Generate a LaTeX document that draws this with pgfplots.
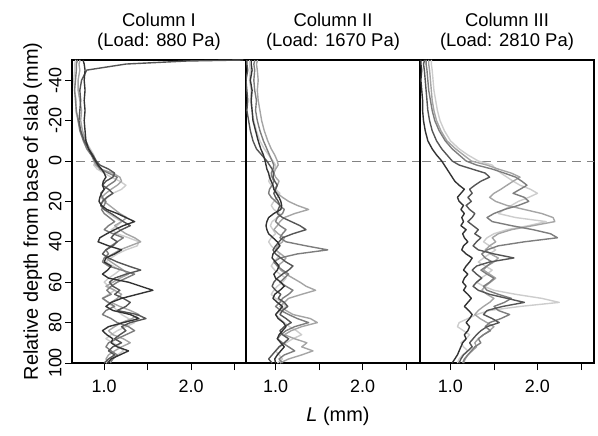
\documentclass[border=0pt]{standalone}
\usepackage{pgfplots}
\pgfplotsset{compat=1.18}
\usepackage{pgfplotstable}
\usepackage{fontspec}
\setmainfont{Liberation Sans}

\definecolor{c1}{RGB}{50,50,50}
\definecolor{c2}{RGB}{85,85,85}
\definecolor{c3}{RGB}{125,125,125}
\definecolor{c4}{RGB}{165,165,165}
\definecolor{c5}{RGB}{205,205,205}
\definecolor{dashgray}{RGB}{130,130,130}

% depth (mm) and L (mm) of five traces per column
\pgfplotstableread{
d t1 t2 t3 t4 t5
-50 0.76 2.60 0.69 0.72 0.67
-49.5 0.76 1.95 0.69 0.72 0.67
-48 0.77 1.25 0.68 0.71 0.66
-45 0.78 0.80 0.68 0.72 0.66
-40 0.77 0.74 0.67 0.70 0.65
-35 0.78 0.72 0.66 0.70 0.66
-30 0.77 0.73 0.67 0.72 0.68
-25 0.78 0.72 0.68 0.74 0.67
-20 0.77 0.71 0.70 0.73 0.70
-15 0.78 0.73 0.72 0.75 0.73
-10 0.79 0.77 0.76 0.79 0.78
-6 0.82 0.82 0.80 0.83 0.84
-3 0.86 0.87 0.85 0.86 0.88
0 0.90 0.91 0.89 0.88 0.90
2 0.93 0.95 0.92 0.90 0.88
4 0.97 1.05 0.95 0.96 0.92
6 1.00 1.12 1.05 1.10 1.00
8 1.02 1.10 1.15 1.18 1.08
10 0.99 1.02 1.12 1.20 1.18
12 0.98 0.98 1.05 1.15 1.25
14 1.00 1.05 1.00 1.08 1.20
16 0.97 1.10 0.96 1.02 1.10
18 0.95 1.03 0.98 0.97 1.04
20 0.94 0.98 1.02 1.00 0.99
22 0.97 0.96 1.00 1.06 0.96
24 1.03 1.00 0.97 1.12 1.00
26 1.15 1.08 1.00 1.18 1.05
28 1.25 1.15 1.06 1.26 1.12
30 1.35 1.22 1.12 1.20 1.20
32 1.22 1.30 1.05 1.12 1.15
34 1.12 1.20 1.00 1.18 1.08
36 1.03 1.12 1.10 1.25 1.15
38 0.95 1.08 1.22 1.35 1.28
40 0.93 1.15 1.15 1.42 1.40
42 1.05 1.10 1.08 1.30 1.38
44 1.20 1.02 1.02 1.18 1.25
46 1.12 0.98 1.05 1.10 1.15
48 1.02 1.05 1.00 1.02 1.08
50 1.00 1.15 0.98 1.08 1.02
52 1.08 1.28 1.05 1.15 1.10
54 1.04 1.42 1.20 1.22 1.18
56 0.98 1.25 1.35 1.28 1.12
58 1.05 1.12 1.25 1.18 1.05
60 1.28 1.06 1.15 1.10 1.00
62 1.42 1.10 1.08 1.02 1.05
64 1.56 1.18 1.03 1.12 1.12
66 1.38 1.12 1.08 1.20 1.05
68 1.20 1.22 0.98 1.15 0.98
70 1.08 1.30 1.05 1.08 1.04
72 1.02 1.25 1.12 1.18 1.10
74 1.10 1.15 1.02 1.30 1.15
76 1.30 1.38 0.98 1.40 1.20
78 1.40 1.48 1.08 1.32 1.28
80 1.22 1.30 1.15 1.20 1.35
82 1.05 1.20 1.28 1.12 1.25
84 0.98 1.25 1.35 1.05 1.15
86 1.03 1.18 1.25 1.10 1.08
88 1.10 1.12 1.15 1.22 1.02
90 1.08 1.20 1.05 1.30 1.10
92 1.15 1.10 1.02 1.20 1.18
94 1.28 1.05 1.08 1.12 1.22
96 1.18 1.12 1.15 1.05 1.15
98 1.08 1.05 1.10 1.02 1.08
100 1.04 1.00 1.07 1.05 1.02
}\colone

\pgfplotstableread{
d t1 t2 t3 t4 t5
-50 0.72 0.67 0.76 0.79 0.70
-49.5 0.72 0.67 0.76 0.79 0.70
-48 0.72 0.67 0.75 0.78 0.70
-45 0.73 0.68 0.76 0.79 0.71
-40 0.71 0.66 0.75 0.80 0.70
-35 0.73 0.67 0.76 0.79 0.72
-30 0.72 0.68 0.78 0.80 0.71
-25 0.73 0.67 0.77 0.82 0.73
-20 0.74 0.69 0.79 0.84 0.75
-15 0.77 0.71 0.82 0.87 0.78
-10 0.80 0.74 0.86 0.91 0.82
-6 0.83 0.78 0.90 0.95 0.87
-3 0.86 0.84 0.93 0.99 0.92
0 0.88 0.90 0.96 1.02 0.97
2 0.89 0.93 0.98 1.03 1.00
4 0.90 0.96 0.97 1.00 0.99
6 0.92 0.98 0.95 0.98 0.96
8 0.93 0.97 0.96 1.00 0.94
10 0.95 0.99 0.98 1.04 0.92
12 0.97 1.02 0.96 1.02 0.95
14 0.98 1.00 0.93 0.98 1.00
16 1.01 0.98 0.92 1.02 1.05
18 1.04 1.00 0.95 1.08 1.02
20 1.06 1.03 1.00 1.15 0.98
22 1.07 1.05 1.05 1.25 0.95
24 1.06 1.03 1.10 1.38 0.98
26 0.98 1.02 1.08 1.22 1.05
28 0.92 1.08 1.02 1.10 1.02
30 0.90 1.18 1.00 1.05 0.96
32 0.89 1.28 1.05 1.02 0.94
34 0.90 1.35 1.12 0.98 0.97
36 0.92 1.20 1.08 1.03 1.00
38 0.97 1.08 1.05 1.10 0.95
40 1.02 1.04 1.12 1.08 0.92
42 1.05 1.00 1.35 1.02 0.95
44 1.01 0.97 1.60 1.00 1.00
46 0.97 1.00 1.25 1.06 1.05
48 0.96 1.06 1.05 1.12 1.02
50 1.00 1.12 0.98 1.08 0.98
52 1.04 1.20 1.02 1.02 0.95
54 1.02 1.15 1.08 1.06 0.99
56 0.98 1.08 1.15 1.12 1.05
58 1.00 1.02 1.10 1.20 1.12
60 1.06 0.98 1.05 1.28 1.08
62 1.10 0.96 1.12 1.35 1.02
64 1.05 1.00 1.20 1.46 0.98
66 0.99 1.06 1.15 1.30 0.95
68 0.97 1.03 1.08 1.15 1.00
70 1.02 1.10 1.05 1.10 1.08
72 1.08 1.14 1.00 1.05 1.12
74 1.04 1.08 1.06 1.12 1.06
76 1.00 1.05 1.15 1.20 1.00
78 1.03 1.12 1.25 1.40 1.05
80 1.09 1.18 1.38 1.48 1.10
82 1.12 1.10 1.22 1.30 1.16
84 1.08 1.05 1.12 1.18 1.24
86 1.04 1.08 1.06 1.10 1.30
88 1.02 1.15 1.02 1.22 1.20
90 1.06 1.10 1.08 1.36 1.12
92 1.10 1.04 1.15 1.30 1.05
94 1.06 1.00 1.22 1.43 1.00
96 1.02 0.96 1.10 1.30 1.04
98 0.99 0.92 1.04 1.15 1.08
100 1.00 0.96 1.08 1.05 1.02
}\coltwo

\pgfplotstableread{
d t1 t2 t3 t4 t5
-50 0.66 0.70 0.72 0.75 0.78
-49.5 0.66 0.70 0.72 0.75 0.78
-48 0.66 0.69 0.72 0.75 0.78
-45 0.67 0.70 0.73 0.76 0.79
-40 0.66 0.71 0.74 0.77 0.80
-35 0.67 0.72 0.75 0.78 0.81
-30 0.68 0.73 0.77 0.79 0.83
-25 0.68 0.74 0.79 0.81 0.85
-20 0.69 0.76 0.82 0.84 0.88
-15 0.71 0.79 0.87 0.89 0.93
-10 0.74 0.84 0.94 0.96 1.00
-6 0.79 0.90 1.02 1.06 1.10
-3 0.84 0.96 1.10 1.15 1.20
0 0.90 1.02 1.18 1.24 1.32
2 0.93 1.10 1.30 1.42 1.48
4 0.96 1.25 1.48 1.55 1.52
6 0.99 1.40 1.62 1.70 1.58
8 1.02 1.45 1.75 1.80 1.65
10 1.05 1.35 1.82 1.72 1.72
12 1.10 1.28 1.88 1.65 1.80
14 1.16 1.22 1.80 1.58 1.92
16 1.12 1.25 1.72 1.50 2.00
18 1.08 1.20 1.85 1.45 1.90
20 1.10 1.24 1.90 1.52 1.78
22 1.15 1.18 1.78 1.65 1.70
24 1.12 1.22 1.62 1.85 1.62
26 1.16 1.28 1.50 2.05 1.55
28 1.13 1.25 1.42 2.18 1.75
30 1.15 1.20 1.48 2.20 2.10
32 1.12 1.26 1.70 1.95 1.90
34 1.18 1.32 1.95 1.70 1.65
36 1.14 1.28 2.15 1.55 1.50
38 1.16 1.35 2.23 1.48 1.42
40 1.20 1.30 1.85 1.52 1.38
42 1.15 1.26 1.55 1.45 1.45
44 1.13 1.32 1.42 1.40 1.52
46 1.18 1.50 1.36 1.46 1.45
48 1.25 1.73 1.40 1.55 1.38
50 1.22 1.45 1.48 1.50 1.32
52 1.18 1.30 1.42 1.42 1.40
54 1.15 1.25 1.35 1.38 1.48
56 1.20 1.30 1.42 1.45 1.42
58 1.16 1.36 1.50 1.52 1.35
60 1.14 1.30 1.45 1.46 1.30
62 1.18 1.26 1.38 1.40 1.38
64 1.15 1.32 1.42 1.36 1.50
66 1.20 1.45 1.55 1.42 1.75
68 1.24 1.65 1.70 1.50 2.05
70 1.20 1.85 1.62 1.45 2.25
72 1.16 1.60 1.50 1.38 1.80
74 1.21 1.42 1.55 1.32 1.45
76 1.25 1.38 1.68 1.28 1.30
78 1.22 1.48 1.58 1.34 1.20
80 1.18 1.56 1.45 1.42 1.10
82 1.22 1.42 1.40 1.50 1.08
84 1.20 1.35 1.46 1.45 1.15
86 1.16 1.30 1.38 1.38 1.22
88 1.18 1.26 1.32 1.32 1.18
90 1.14 1.22 1.35 1.28 1.12
92 1.12 1.25 1.28 1.30 1.15
94 1.10 1.20 1.24 1.25 1.20
96 1.08 1.15 1.20 1.20 1.14
98 1.05 1.12 1.16 1.17 1.10
100 1.02 1.10 1.14 1.15 1.08
}\colthree

\pgfplotsset{
  slab/.style={
    scale only axis, width=174bp, height=303bp,
    anchor=south west,
    y dir=reverse, ymin=-50, ymax=100,
    xtick={1,1.5,2,2.5}, xticklabels={1.0,,2.0,},
    tick pos=left, tick align=outside,
    major tick length=7bp,
    every tick/.style={black, line width=0.9pt},
    axis line style={black, line width=1.3pt},
    tick label style={font=\fontsize{18}{20}\selectfont},
    xticklabel style={yshift=-6bp},
    /pgf/number format/assume math mode=true,
    title style={align=center, font=\fontsize{18.5}{20}\selectfont},
    label style={font=\fontsize{20}{22}\selectfont},
  },
  trace/.style={line width=1.4pt, line join=round},
  zeroline/.style={dashgray, line width=0.9pt, dash pattern=on 9bp off 6bp, forget plot},
}

\newcommand{\traces}[1]{%
  \addplot[zeroline] coordinates {(0.5,0) (2.8,0)};
  \addplot[trace, c5] table[x=t5, y=d] {#1};
  \addplot[trace, c4] table[x=t4, y=d] {#1};
  \addplot[trace, c3] table[x=t3, y=d] {#1};
  \addplot[trace, c2] table[x=t2, y=d] {#1};
  \addplot[trace, c1] table[x=t1, y=d] {#1};
}

\begin{document}
\begin{tikzpicture}
\useasboundingbox (0,0) rectangle (598bp,436bp);

\begin{axis}[slab, at={(72bp,73bp)},
  xmin=0.63, xmax=2.63,
  ytick={-40,-20,0,20,40,60,80,100},
  yticklabels={-40,-20,0,20,40,60,80,100},
  yticklabel style={rotate=90, anchor=south},
  ylabel={Relative depth from base of slab (mm)},
  title={Column I\\(Load: 880 Pa)}]
\traces{\colone}
\end{axis}

\begin{axis}[slab, at={(246bp,73bp)},
  xmin=0.66, xmax=2.66, ytick=\empty,
  xlabel={\textit{L} (mm)},
  xlabel style={yshift=-8bp, xshift=5bp},
  title={Column II\\(Load: 1670 Pa)}]
\traces{\coltwo}
\end{axis}

\begin{axis}[slab, at={(420bp,73bp)},
  xmin=0.65, xmax=2.65, ytick=\empty,
  title={Column III\\(Load: 2810 Pa)}]
\traces{\colthree}
\end{axis}
\end{tikzpicture}
\end{document}
